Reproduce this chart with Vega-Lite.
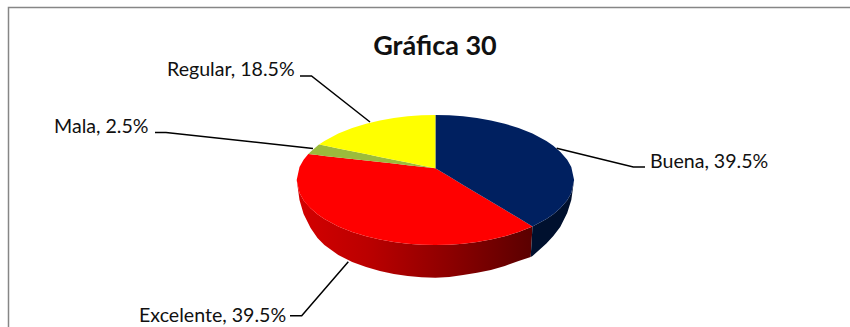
{
  "$schema": "https://vega.github.io/schema/vega-lite/v6.json",
  "width": 850,
  "height": 327,
  "padding": 0,
  "autosize": "none",
  "background": "white",
  "view": {"stroke": null},
  "datasets": {
    "marco": [
      {"tramo": "izquierda", "orden": 1, "x": 8.5, "y": 327},
      {"tramo": "izquierda", "orden": 2, "x": 8.5, "y": 7.5},
      {"tramo": "izquierda", "orden": 3, "x": 850, "y": 7.5}
    ],
    "pared": [
      {"parte": "Excelente", "x": 296.7, "y": 180, "y2": 180},
      {"parte": "Excelente", "x": 299.5, "y": 192.9, "y2": 200},
      {"parte": "Excelente", "x": 303.6, "y": 200.3, "y2": 214},
      {"parte": "Excelente", "x": 310.6, "y": 208.3, "y2": 228},
      {"parte": "Excelente", "x": 317.5, "y": 214.2, "y2": 238},
      {"parte": "Excelente", "x": 324.4, "y": 219, "y2": 245},
      {"parte": "Excelente", "x": 338.3, "y": 226.4, "y2": 255},
      {"parte": "Excelente", "x": 352.2, "y": 232, "y2": 262},
      {"parte": "Excelente", "x": 366.1, "y": 236.3, "y2": 267},
      {"parte": "Excelente", "x": 379.9, "y": 239.6, "y2": 271},
      {"parte": "Excelente", "x": 393.8, "y": 242, "y2": 274},
      {"parte": "Excelente", "x": 407.7, "y": 243.7, "y2": 276},
      {"parte": "Excelente", "x": 421.5, "y": 244.7, "y2": 277.3},
      {"parte": "Excelente", "x": 435.4, "y": 245, "y2": 277.7},
      {"parte": "Excelente", "x": 449.3, "y": 244.7, "y2": 277},
      {"parte": "Excelente", "x": 463.1, "y": 243.7, "y2": 275},
      {"parte": "Excelente", "x": 477, "y": 242, "y2": 272.8},
      {"parte": "Excelente", "x": 490.9, "y": 239.6, "y2": 270},
      {"parte": "Excelente", "x": 504.8, "y": 236.3, "y2": 266},
      {"parte": "Excelente", "x": 518.6, "y": 232, "y2": 261},
      {"parte": "Excelente", "x": 530.7, "y": 227.3, "y2": 257},
      {"parte": "Excelente", "x": 532.5, "y": 226.4, "y2": 226.4},
      {"parte": "Buena", "x": 530.7, "y": 257, "y2": 257},
      {"parte": "Buena", "x": 532.5, "y": 226.4, "y2": 256},
      {"parte": "Buena", "x": 546.4, "y": 219, "y2": 243.5},
      {"parte": "Buena", "x": 553.3, "y": 214.2, "y2": 236},
      {"parte": "Buena", "x": 560.2, "y": 208.3, "y2": 227},
      {"parte": "Buena", "x": 567.2, "y": 200.3, "y2": 213},
      {"parte": "Buena", "x": 571.3, "y": 192.9, "y2": 200},
      {"parte": "Buena", "x": 574.1, "y": 180, "y2": 180}
    ],
    "cara": [
      {"parte": "Excelente", "x": 296.7, "y": 180, "y2": 180},
      {"parte": "Excelente", "x": 299.5, "y": 167.1, "y2": 192.9},
      {"parte": "Excelente", "x": 303.6, "y": 159.7, "y2": 200.3},
      {"parte": "Excelente", "x": 308.3, "y": 154, "y2": 206},
      {"parte": "Excelente", "x": 310.6, "y": 154.3, "y2": 208.3},
      {"parte": "Excelente", "x": 317.5, "y": 155.1, "y2": 214.2},
      {"parte": "Excelente", "x": 324.4, "y": 155.9, "y2": 219},
      {"parte": "Excelente", "x": 338.3, "y": 157.4, "y2": 226.4},
      {"parte": "Excelente", "x": 352.2, "y": 159, "y2": 232},
      {"parte": "Excelente", "x": 366.1, "y": 160.5, "y2": 236.3},
      {"parte": "Excelente", "x": 379.9, "y": 162.1, "y2": 239.6},
      {"parte": "Excelente", "x": 393.8, "y": 163.6, "y2": 242},
      {"parte": "Excelente", "x": 407.7, "y": 165.2, "y2": 243.7},
      {"parte": "Excelente", "x": 421.5, "y": 166.7, "y2": 244.7},
      {"parte": "Excelente", "x": 435.4, "y": 168.3, "y2": 245},
      {"parte": "Excelente", "x": 449.3, "y": 176.6, "y2": 244.7},
      {"parte": "Excelente", "x": 463.1, "y": 184.9, "y2": 243.7},
      {"parte": "Excelente", "x": 477, "y": 193.2, "y2": 242},
      {"parte": "Excelente", "x": 490.9, "y": 201.5, "y2": 239.6},
      {"parte": "Excelente", "x": 504.8, "y": 209.8, "y2": 236.3},
      {"parte": "Excelente", "x": 518.6, "y": 218.1, "y2": 232},
      {"parte": "Excelente", "x": 532.5, "y": 226.4, "y2": 226.4},

      {"parte": "Buena", "x": 435.4, "y": 115, "y2": 168.3},
      {"parte": "Buena", "x": 449.3, "y": 115.3, "y2": 176.6},
      {"parte": "Buena", "x": 463.1, "y": 116.3, "y2": 184.9},
      {"parte": "Buena", "x": 477, "y": 118, "y2": 193.2},
      {"parte": "Buena", "x": 490.9, "y": 120.4, "y2": 201.5},
      {"parte": "Buena", "x": 504.8, "y": 123.7, "y2": 209.8},
      {"parte": "Buena", "x": 518.6, "y": 128, "y2": 218.1},
      {"parte": "Buena", "x": 532.5, "y": 133.6, "y2": 226.4},
      {"parte": "Buena", "x": 546.4, "y": 141, "y2": 219},
      {"parte": "Buena", "x": 553.3, "y": 145.8, "y2": 214.2},
      {"parte": "Buena", "x": 560.2, "y": 151.7, "y2": 208.3},
      {"parte": "Buena", "x": 567.2, "y": 159.7, "y2": 200.3},
      {"parte": "Buena", "x": 571.3, "y": 167.1, "y2": 192.9},
      {"parte": "Buena", "x": 574.1, "y": 180, "y2": 180},

      {"parte": "Mala", "x": 308.3, "y": 154, "y2": 154},
      {"parte": "Mala", "x": 310.6, "y": 151.7, "y2": 154.3},
      {"parte": "Mala", "x": 317.5, "y": 145.8, "y2": 155.1},
      {"parte": "Mala", "x": 319, "y": 144.5, "y2": 155.3},
      {"parte": "Mala", "x": 324.4, "y": 145.6, "y2": 155.9},
      {"parte": "Mala", "x": 338.3, "y": 148.4, "y2": 157.4},
      {"parte": "Mala", "x": 352.2, "y": 151.3, "y2": 159},
      {"parte": "Mala", "x": 366.1, "y": 154.1, "y2": 160.5},
      {"parte": "Mala", "x": 379.9, "y": 156.9, "y2": 162.1},
      {"parte": "Mala", "x": 393.8, "y": 159.8, "y2": 163.6},
      {"parte": "Mala", "x": 407.7, "y": 162.6, "y2": 165.2},
      {"parte": "Mala", "x": 421.5, "y": 165.5, "y2": 166.7},
      {"parte": "Mala", "x": 435.4, "y": 168.3, "y2": 168.3},

      {"parte": "Regular", "x": 319, "y": 144.5, "y2": 144.5},
      {"parte": "Regular", "x": 324.4, "y": 141, "y2": 145.6},
      {"parte": "Regular", "x": 338.3, "y": 133.6, "y2": 148.4},
      {"parte": "Regular", "x": 352.2, "y": 128, "y2": 151.3},
      {"parte": "Regular", "x": 366.1, "y": 123.7, "y2": 154.1},
      {"parte": "Regular", "x": 379.9, "y": 120.4, "y2": 156.9},
      {"parte": "Regular", "x": 393.8, "y": 118, "y2": 159.8},
      {"parte": "Regular", "x": 407.7, "y": 116.3, "y2": 162.6},
      {"parte": "Regular", "x": 421.5, "y": 115.3, "y2": 165.5},
      {"parte": "Regular", "x": 435.4, "y": 115, "y2": 168.3}
    ],
    "guias": [
      {"parte": "Regular", "orden": 1, "x": 300, "y": 76},
      {"parte": "Regular", "orden": 2, "x": 311.5, "y": 76},
      {"parte": "Regular", "orden": 3, "x": 370, "y": 122},
      {"parte": "Mala", "orden": 1, "x": 155, "y": 132.5},
      {"parte": "Mala", "orden": 2, "x": 166, "y": 132.5},
      {"parte": "Mala", "orden": 3, "x": 313, "y": 148.5},
      {"parte": "Buena", "orden": 1, "x": 556.7, "y": 148.3},
      {"parte": "Buena", "orden": 2, "x": 633.3, "y": 167},
      {"parte": "Buena", "orden": 3, "x": 645, "y": 167},
      {"parte": "Excelente", "orden": 1, "x": 290, "y": 315.7},
      {"parte": "Excelente", "orden": 2, "x": 301.7, "y": 315.7},
      {"parte": "Excelente", "orden": 3, "x": 348.3, "y": 261.7}
    ],
    "etiquetas": [
      {"parte": "Regular", "porcentaje": 18.5, "texto": "Regular, 18.5%", "x": 167, "y": 70},
      {"parte": "Mala", "porcentaje": 2.5, "texto": "Mala, 2.5%", "x": 54, "y": 127},
      {"parte": "Buena", "porcentaje": 39.5, "texto": "Buena, 39.5%", "x": 650, "y": 162},
      {"parte": "Excelente", "porcentaje": 39.5, "texto": "Excelente, 39.5%", "x": 139, "y": 316}
    ],
    "titulo": [
      {"texto": "Gráfica 30", "x": 435, "y": 47}
    ]
  },
  "encoding": {
    "x": {"field": "x", "type": "quantitative", "axis": null, "scale": {"domain": [0, 850], "nice": false, "zero": false}},
    "y": {"field": "y", "type": "quantitative", "axis": null, "scale": {"domain": [327, 0], "nice": false, "zero": false}}
  },
  "layer": [
    {
      "data": {"name": "marco"},
      "mark": {"type": "line", "color": "#868686", "strokeWidth": 1.5, "interpolate": "linear"},
      "encoding": {"order": {"field": "orden", "type": "ordinal"}}
    },
    {
      "data": {"name": "pared"},
      "transform": [{"filter": "datum.parte === 'Excelente'"}],
      "mark": {
        "type": "area",
        "orient": "vertical",
        "color": {
          "gradient": "linear",
          "x1": 0, "y1": 0, "x2": 1, "y2": 0,
          "stops": [
            {"offset": 0, "color": "#d40000"},
            {"offset": 0.3, "color": "#bb0000"},
            {"offset": 0.65, "color": "#8c0000"},
            {"offset": 1, "color": "#5a0000"}
          ]
        }
      },
      "encoding": {"y2": {"field": "y2"}}
    },
    {
      "data": {"name": "pared"},
      "transform": [{"filter": "datum.parte === 'Buena'"}],
      "mark": {"type": "area", "orient": "vertical", "color": "#00102e"},
      "encoding": {"y2": {"field": "y2"}}
    },
    {
      "data": {"name": "cara"},
      "mark": {"type": "area", "orient": "vertical"},
      "encoding": {
        "y2": {"field": "y2"},
        "detail": {"field": "parte"},
        "color": {
          "field": "parte",
          "type": "nominal",
          "legend": null,
          "scale": {
            "domain": ["Buena", "Excelente", "Mala", "Regular"],
            "range": ["#002060", "#ff0000", "#9bbb3c", "#ffff00"]
          }
        }
      }
    },
    {
      "data": {"name": "guias"},
      "mark": {"type": "line", "color": "#000000", "strokeWidth": 1.5},
      "encoding": {
        "detail": {"field": "parte"},
        "order": {"field": "orden", "type": "ordinal"}
      }
    },
    {
      "data": {"name": "etiquetas"},
      "mark": {"type": "text", "align": "left", "baseline": "middle", "font": "Lato", "fontSize": 19.6, "color": "#111111"},
      "encoding": {"text": {"field": "texto"}}
    },
    {
      "data": {"name": "titulo"},
      "mark": {"type": "text", "align": "center", "baseline": "middle", "font": "Lato", "fontSize": 27, "fontWeight": "bold", "color": "#111111"},
      "encoding": {"text": {"field": "texto"}}
    }
  ]
}
